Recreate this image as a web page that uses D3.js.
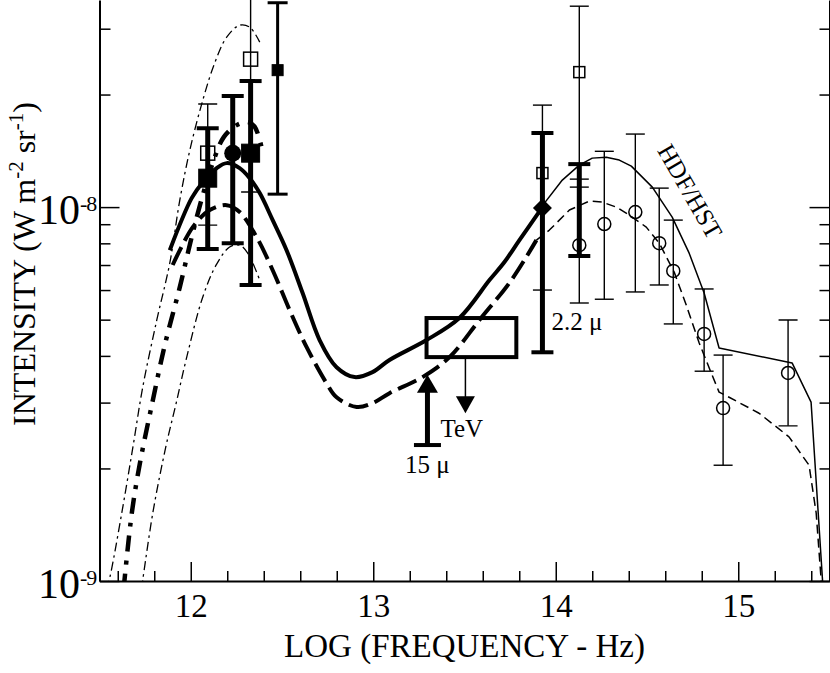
<!DOCTYPE html>
<html><head><meta charset="utf-8">
<script src="https://cdn.jsdelivr.net/npm/d3@7"></script>
<style>
html,body{margin:0;padding:0;background:#fff;}
svg{display:block;}
text{font-family:"Liberation Serif","Times New Roman",Times,serif;fill:#000;}
</style></head><body>
<svg id="chart" width="830" height="673"></svg>
<script>
// ---------- DATA (x = log10 frequency [Hz], intensity in units of 1e-8 W m^-2 sr^-1) ----------
const xMajorTicks = [12, 13, 14, 15];
const xMinorTicks = [11.6, 11.8, 12.2, 12.4, 12.6, 12.8, 13.2, 13.4, 13.6, 13.8, 14.2, 14.4, 14.6, 14.8, 15.2, 15.4];
const yMajorTicks = [0.1, 1];
const yMajorExponents = ["9", "8"];
const yMinorTicks = [0.2, 0.3, 0.4, 0.5, 0.6, 0.7, 0.8, 0.9, 2, 3];

// thick solid model
const modelSolidX = [11.885, 12.005, 12.066, 12.142, 12.197, 12.268, 12.323, 12.378, 12.449, 12.525, 12.613, 12.706, 12.799, 12.898, 12.996, 13.089, 13.292, 13.472, 13.637, 13.719, 13.801, 13.927];
const modelSolidI = [0.767, 1.057, 1.166, 1.271, 1.311, 1.271, 1.195, 1.090, 0.923, 0.767, 0.589, 0.441, 0.373, 0.351, 0.362, 0.390, 0.441, 0.505, 0.638, 0.713, 0.816, 1.000];
// thick dashed model
const modelDashedX = [11.901, 12.011, 12.104, 12.197, 12.268, 12.361, 12.449, 12.542, 12.635, 12.744, 12.799, 12.909, 12.996, 13.089, 13.270, 13.418, 13.582, 13.757, 13.894];
const modelDashedI = [0.700, 0.884, 0.982, 1.012, 0.970, 0.831, 0.678, 0.530, 0.422, 0.338, 0.310, 0.292, 0.299, 0.318, 0.351, 0.397, 0.499, 0.638, 0.816];
// thick dash-dot model
const modelDashDotX = [11.632, 11.677, 11.721, 11.792, 11.858, 11.940, 12.005, 12.066, 12.126, 12.181, 12.252, 12.312, 12.350, 12.389];
const modelDashDotI = [0.095, 0.152, 0.206, 0.304, 0.428, 0.611, 0.831, 1.077, 1.336, 1.539, 1.657, 1.688, 1.642, 1.438];
// thin dash-dot envelopes
const upperEnvX = [11.538, 11.557, 11.622, 11.683, 11.737, 11.814, 11.885, 11.940, 11.995, 12.066, 12.131, 12.197, 12.268, 12.323, 12.378];
const upperEnvI = [0.095, 0.1025, 0.152, 0.228, 0.330, 0.499, 0.708, 1.044, 1.420, 1.932, 2.427, 2.848, 3.066, 3.029, 2.762];
const lowerEnvX = [11.730, 11.792, 11.863, 11.918, 11.978, 12.066, 12.142, 12.213, 12.268, 12.312, 12.378];
const lowerEnvI = [0.095, 0.152, 0.228, 0.296, 0.397, 0.575, 0.704, 0.782, 0.791, 0.753, 0.638];
// HDF/HST thin models
const hdfSolidX = [13.921, 14.036, 14.129, 14.200, 14.277, 14.348, 14.414, 14.529, 14.638, 14.731, 14.813, 14.895, 15.295, 15.399, 15.465];
const hdfSolidI = [1.000, 1.181, 1.295, 1.352, 1.360, 1.336, 1.287, 1.131, 0.940, 0.753, 0.589, 0.420, 0.383, 0.301, 0.095];
const hdfDashedX = [13.894, 13.965, 14.075, 14.184, 14.255, 14.332, 14.403, 14.496, 14.567, 14.649, 14.715, 14.786, 14.852, 14.895, 14.950, 15.114, 15.278, 15.388, 15.427, 15.458];
const hdfDashedI = [0.816, 0.868, 0.982, 1.038, 1.031, 1.000, 0.952, 0.884, 0.801, 0.670, 0.547, 0.433, 0.360, 0.320, 0.310, 0.281, 0.243, 0.204, 0.152, 0.095];

// HDF/HST galaxy counts (open circles)
const hdfPtsX  = [14.129, 14.266, 14.436, 14.567, 14.644, 14.813, 14.917, 15.273];
const hdfPtsI  = [0.791, 0.901, 0.970, 0.801, 0.675, 0.458, 0.290, 0.360];
const hdfPtsHi = [1.131, 1.410, 1.568, 1.124, 0.923, 0.604, 0.402, 0.499];
const hdfPtsLo = [0.554, 0.567, 0.593, 0.619, 0.487, 0.364, 0.204, 0.260];

// open squares (far-IR)
const openSqFirX  = [12.093, 12.328];
const openSqFirI  = [1.394, 2.487];
const openSqFirHi = [1.886, 4.000];
const openSqFirLo = [0.895, 1.097];
// open squares (near-IR)
const openSqNirX  = [13.927, 14.129];
const openSqNirI  = [1.233, 2.296];
const openSqNirHi = [1.874, 3.446];
const openSqNirLo = [0.600, 1.188];

// filled squares
const fillSqX  = [12.093, 12.328];
const fillSqI  = [1.195, 1.394];
const fillSqHi = [1.626, 2.173];
const fillSqLo = [0.772, 0.619];
// filled circle
const fillCircX  = [12.230];
const fillCircI  = [1.394];
const fillCircHi = [1.981];
const fillCircLo = [0.801];
// small filled square
const smallSqX  = [12.476];
const smallSqI  = [2.324];
const smallSqHi = [3.520];
const smallSqLo = [1.083];
// 2.2 micron diamond
const diamondX  = [13.927];
const diamondI  = [0.994];
const diamondHi = [1.578];
const diamondLo = [0.409];
// bar without marker
const barOnlyX  = [14.129];
const barOnlyHi = [1.303];
const barOnlyLo = [0.740];

// TeV constraint box and upper-limit arrow
const tevX = [13.292, 13.784];
const tevI = [0.397, 0.505];
const tevArrowX = 13.505;
const tevArrowTo = 0.281;
// 15 micron lower limit
const mu15X = 13.297;
const mu15Lo = 0.231;
const mu15To = 0.356;

// ---------- CHART ----------
const FONT = '"Liberation Serif","Times New Roman",Times,serif';
const svg = d3.select("#chart");
const x = d3.scaleLinear().domain([11.5, 15.5]).range([99.5, 829.5]);
const y = d3.scaleLog().domain([0.1, 3.58]).range([581, 0]);

svg.append("defs").append("clipPath").attr("id", "plotclip")
  .append("rect").attr("x", x(11.5)).attr("y", -50)
  .attr("width", x(15.5) - x(11.5)).attr("height", y(0.1) + 50);

const plot = svg.append("g").attr("clip-path", "url(#plotclip)");

const pts = (X, I) => d3.zip(X, I);
const smooth = d3.line().x(d => x(d[0])).y(d => y(d[1])).curve(d3.curveCatmullRom.alpha(0.5));
const straight = d3.line().x(d => x(d[0])).y(d => y(d[1]));

function curve(X, I, gen, sw, dash) {
  plot.append("path").attr("d", gen(pts(X, I)))
    .attr("fill", "none").attr("stroke", "#000").attr("stroke-width", sw)
    .attr("stroke-dasharray", dash || null).attr("stroke-linejoin", "round");
}
curve(upperEnvX, upperEnvI, smooth, 1.3, "9,4,2.5,4");
curve(lowerEnvX, lowerEnvI, smooth, 1.3, "9,4,2.5,4");
curve(hdfSolidX, hdfSolidI, straight, 1.5);
curve(hdfDashedX, hdfDashedI, straight, 1.5, "9,5");
curve(modelDashDotX, modelDashDotI, smooth, 4.5, "16,9,4,9");
curve(modelDashedX, modelDashedI, smooth, 4, "20,7");
curve(modelSolidX, modelSolidI, smooth, 4);

function errBars(X, Lo, Hi, sw, capW, capSW) {
  X.forEach((xv, i) => {
    const g = plot.append("g");
    const px = x(xv);
    g.append("line").attr("x1", px).attr("x2", px).attr("y1", y(Lo[i])).attr("y2", y(Hi[i]))
      .attr("stroke", "#000").attr("stroke-width", sw);
    [Lo[i], Hi[i]].forEach(v => {
      g.append("line").attr("x1", px - capW / 2).attr("x2", px + capW / 2)
        .attr("y1", y(v)).attr("y2", y(v)).attr("stroke", "#000").attr("stroke-width", capSW);
    });
  });
}
// thin error bars
errBars(hdfPtsX, hdfPtsLo, hdfPtsHi, 1.4, 19, 1.4);
errBars(openSqFirX, openSqFirLo, openSqFirHi, 1.4, 19, 1.4);
errBars(openSqNirX, openSqNirLo, openSqNirHi, 1.4, 19, 1.4);
// medium
errBars(smallSqX, smallSqLo, smallSqHi, 3, 20, 3);
// thick
errBars(fillSqX, fillSqLo, fillSqHi, 5, 22, 4);
errBars(fillCircX, fillCircLo, fillCircHi, 5, 22, 4);
errBars(diamondX, diamondLo, diamondHi, 5, 22, 4);
errBars(barOnlyX, barOnlyLo, barOnlyHi, 5, 22, 4);

// markers
function squares(X, I, size, filled) {
  X.forEach((xv, i) => {
    plot.append("rect").attr("x", x(xv) - size / 2).attr("y", y(I[i]) - size / 2)
      .attr("width", size).attr("height", size)
      .attr("fill", filled ? "#000" : "none").attr("stroke", "#000").attr("stroke-width", filled ? 1 : 1.5);
  });
}
squares(openSqFirX, openSqFirI, 14, false);
squares(openSqNirX, openSqNirI, 11, false);
squares(fillSqX, fillSqI, 18, true);
squares(smallSqX, smallSqI, 11, true);
hdfPtsX.forEach((xv, i) => {
  plot.append("circle").attr("cx", x(xv)).attr("cy", y(hdfPtsI[i])).attr("r", 6.5)
    .attr("fill", "none").attr("stroke", "#000").attr("stroke-width", 1.5);
});
fillCircX.forEach((xv, i) => {
  plot.append("circle").attr("cx", x(xv)).attr("cy", y(fillCircI[i])).attr("r", 8.5).attr("fill", "#000");
});
diamondX.forEach((xv, i) => {
  const cx = x(xv), cy = y(diamondI[i]), r = 9.5;
  plot.append("path").attr("d", `M${cx},${cy - r}L${cx + r},${cy}L${cx},${cy + r}L${cx - r},${cy}Z`).attr("fill", "#000");
});

function label(sel) { return sel.attr("font-family", FONT).attr("fill", "#000"); }

// TeV box + arrow
plot.append("rect").attr("x", x(tevX[0])).attr("y", y(tevI[1]))
  .attr("width", x(tevX[1]) - x(tevX[0])).attr("height", y(tevI[0]) - y(tevI[1]))
  .attr("fill", "none").attr("stroke", "#000").attr("stroke-width", 4);
{
  const ax = x(tevArrowX), tip = y(tevArrowTo);
  plot.append("line").attr("x1", ax).attr("x2", ax).attr("y1", y(tevI[0])).attr("y2", tip - 10)
    .attr("stroke", "#000").attr("stroke-width", 1.5);
  plot.append("path").attr("d", `M${ax - 9.5},${tip - 17}L${ax + 9.5},${tip - 17}L${ax},${tip}Z`).attr("fill", "#000");
  label(svg.append("text")).attr("x", ax - 25).attr("y", tip + 24).attr("font-size", 25).text("TeV");
}
// 15 micron arrow
{
  const ax = x(mu15X), tip = y(mu15To), base = y(mu15Lo);
  plot.append("line").attr("x1", ax).attr("x2", ax).attr("y1", base).attr("y2", tip + 12)
    .attr("stroke", "#000").attr("stroke-width", 5);
  plot.append("line").attr("x1", ax - 13.5).attr("x2", ax + 13.5).attr("y1", base).attr("y2", base)
    .attr("stroke", "#000").attr("stroke-width", 4);
  plot.append("path").attr("d", `M${ax - 10.5},${tip + 18}L${ax + 10.5},${tip + 18}L${ax},${tip}Z`).attr("fill", "#000");
  label(svg.append("text")).attr("x", ax).attr("y", base + 28).attr("text-anchor", "middle").attr("font-size", 25).text("15 μ");
}
// 2.2 micron label
label(svg.append("text")).attr("x", x(diamondX[0]) + 9).attr("y", y(diamondLo[0]) - 22).attr("font-size", 25).text("2.2 μ");
// HDF/HST label
label(svg.append("text")).attr("transform", `translate(${x(14.737)},${y(1.103)}) rotate(60)`)
  .attr("text-anchor", "middle").attr("dy", "0.35em").attr("font-size", 25).text("HDF/HST");

// ---------- AXES ----------
function styleAxis(g, keepDomain) {
  g.attr("font-family", FONT).attr("font-size", null);
  g.selectAll(".tick line").attr("stroke", "#000").attr("stroke-width", 1.5);
  if (keepDomain) g.select(".domain").attr("stroke", "#000").attr("stroke-width", 2);
  else g.select(".domain").remove();
}
// bottom
const gxMin = svg.append("g").attr("transform", "translate(0,581)")
  .call(d3.axisBottom(x).tickValues(xMinorTicks).tickSizeInner(-10).tickSizeOuter(0).tickFormat(""));
styleAxis(gxMin, false);
const gx = svg.append("g").attr("transform", "translate(0,581)")
  .call(d3.axisBottom(x).tickValues(xMajorTicks).tickSizeInner(-19).tickSizeOuter(0).tickPadding(13).tickFormat(d3.format("d")));
styleAxis(gx, true);
gx.selectAll(".tick text").attr("font-size", 33).attr("font-family", FONT).attr("fill", "#000");

// left
const gyMin = svg.append("g").attr("transform", `translate(${x(11.5)},0)`)
  .call(d3.axisLeft(y).tickValues(yMinorTicks).tickSizeInner(-11).tickSizeOuter(0).tickFormat(""));
styleAxis(gyMin, false);
const gy = svg.append("g").attr("transform", `translate(${x(11.5)},0)`)
  .call(d3.axisLeft(y).tickValues(yMajorTicks).tickSizeInner(-20).tickSizeOuter(0).tickFormat(""));
styleAxis(gy, true);
yMajorTicks.forEach((t, i) => {
  const tx = label(svg.append("text")).attr("x", 38).attr("y", y(t) + 17);
  tx.append("tspan").attr("font-size", 42).text("10");
  tx.append("tspan").attr("font-size", 22).attr("dy", -13).text("-");
  tx.append("tspan").attr("font-size", 22).attr("dx", -1).text(yMajorExponents[i]);
});
// right
const gyrMin = svg.append("g").attr("transform", `translate(${x(15.5)},0)`)
  .call(d3.axisRight(y).tickValues(yMinorTicks).tickSizeInner(-10).tickSizeOuter(0).tickFormat(""));
styleAxis(gyrMin, false);
const gyr = svg.append("g").attr("transform", `translate(${x(15.5)},0)`)
  .call(d3.axisRight(y).tickValues(yMajorTicks).tickSizeInner(-20).tickSizeOuter(0).tickFormat(""));
styleAxis(gyr, true);

// axis titles
label(svg.append("text")).attr("x", (x(11.5) + x(15.5)) / 2).attr("y", 657).attr("text-anchor", "middle")
  .attr("font-size", 33).text("LOG (FREQUENCY - Hz)");
const yt = label(svg.append("text")).attr("transform", "translate(35,264) rotate(-90)")
  .attr("text-anchor", "middle").attr("font-size", 32);
yt.append("tspan").text("INTENSITY (W m");
yt.append("tspan").attr("font-size", 21).attr("dy", -12).text("-2");
yt.append("tspan").attr("dy", 12).text(" sr");
yt.append("tspan").attr("font-size", 21).attr("dy", -12).text("-1");
yt.append("tspan").attr("dy", 12).text(")");
</script>
</body></html>
